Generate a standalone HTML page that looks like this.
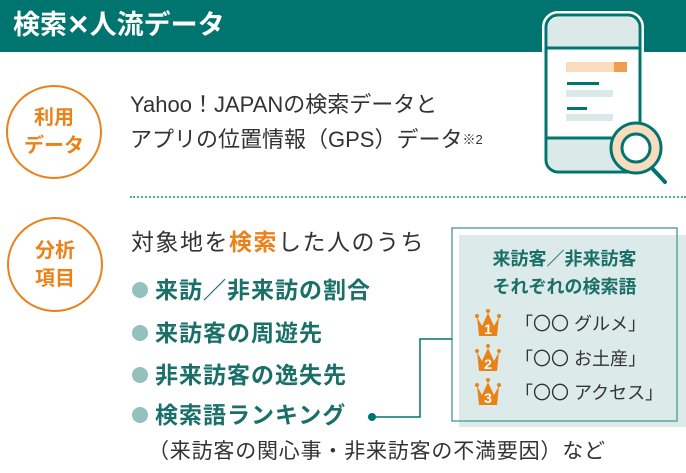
<!DOCTYPE html><html><head><meta charset="utf-8"><style>
body{margin:0;width:686px;height:473px;position:relative;background:#fff;font-family:"Liberation Sans","Noto Sans CJK JP",sans-serif;overflow:hidden}
.a{position:absolute;white-space:nowrap}
.c{position:absolute;border:2px solid #ea8219;border-radius:50%;box-sizing:border-box;color:#ea8219;font-weight:bold;font-size:20px;line-height:28px;text-align:center;display:flex;flex-direction:column;justify-content:center}
.b{position:absolute;left:132px;width:16px;height:16px;border-radius:50%;background:#94c1be}
.bt{position:absolute;left:155px;color:#1a6f69;font-weight:bold;font-size:23px;letter-spacing:1px;line-height:26px;white-space:nowrap}
.r{position:absolute;left:515px;font-size:18px;color:#333;white-space:nowrap;line-height:22px}
</style></head><body>
<div class="a" style="left:0;top:0;width:686px;height:52px;background:#00756f"></div>
<div class="a" style="left:13px;top:8px;color:#fff;font-weight:bold;font-size:27px;line-height:34px">検索✕人流データ</div>
<div class="c" style="left:6px;top:85px;width:96px;height:94px">利用<br>データ</div>
<div class="a" style="left:130px;top:90px;font-size:22px;color:#333;line-height:30px">Yahoo！JAPANの検索データと</div>
<div class="a" style="left:130px;top:125px;font-size:22px;color:#333;line-height:30px">アプリの位置情報（GPS）データ<span style="font-size:13px;vertical-align:top">※2</span></div>
<div class="a" style="left:130px;top:196px;width:556px;border-top:2px dotted #5aa6a0"></div>
<svg class="a" style="left:0;top:0" width="686" height="200">
<rect x="546" y="15" width="94" height="157" rx="12" fill="#fff" stroke="#fff" stroke-width="8"/>
<rect x="546" y="15" width="94" height="157" rx="12" fill="#fff" stroke="#00756f" stroke-width="3"/>
<path d="M548 48 V27 a10 10 0 0 1 10 -10 H628 a10 10 0 0 1 10 10 V48Z" fill="#dbeae8"/>
<path d="M548 138 V160 a10 10 0 0 0 10 10 H628 a10 10 0 0 0 10 -10 V138Z" fill="#dbeae8"/>
<line x1="547" y1="48" x2="639" y2="48" stroke="#00756f" stroke-width="3"/>
<line x1="547" y1="138" x2="639" y2="138" stroke="#00756f" stroke-width="3"/>
<rect x="566" y="62" width="61" height="10" fill="#f9dcc0"/><rect x="614" y="62" width="13" height="10" fill="#ef9e50"/>
<rect x="567" y="82" width="32" height="3" fill="#00756f"/><rect x="566" y="90" width="47" height="7" fill="#dbeae8"/>
<rect x="567" y="107" width="20" height="3" fill="#00756f"/><rect x="566" y="114" width="47" height="7" fill="#dbeae8"/>
<line x1="650" y1="166" x2="665" y2="182" stroke="#00756f" stroke-width="4" stroke-linecap="round"/>
<circle cx="636" cy="148" r="25" fill="#f9dcc0" stroke="#00756f" stroke-width="3"/>
<circle cx="636" cy="148" r="14" fill="#fff" stroke="#00756f" stroke-width="3"/>
</svg>
<div class="c" style="left:7px;top:217px;width:96px;height:95px">分析<br>項目</div>
<div class="a" style="left:131px;top:228px;font-size:23px;letter-spacing:1.5px;color:#333;line-height:28px">対象地を<b style="color:#ea8219">検索</b>した人のうち</div>
<div class="b" style="top:282px"></div><div class="bt" style="top:277px">来訪／非来訪の割合</div>
<div class="b" style="top:325px"></div><div class="bt" style="top:320px">来訪客の周遊先</div>
<div class="b" style="top:367px"></div><div class="bt" style="top:362px">非来訪客の逸失先</div>
<div class="b" style="top:407px"></div><div class="bt" style="top:402px">検索語ランキング</div>
<div class="a" style="left:148px;top:438px;font-size:21px;letter-spacing:0.8px;color:#333;line-height:28px">（来訪客の関心事・非来訪客の不満要因）など</div>
<svg class="a" style="left:0;top:0" width="686" height="473">
<rect x="459" y="235" width="227" height="192" fill="#dcebe9"/>
<rect x="452" y="228" width="225" height="193" fill="none" stroke="#5aa6a0" stroke-width="1.5"/>
<circle cx="372" cy="417" r="4" fill="#00756f"/>
<polyline points="372,417 420,417 420,339 452,339" fill="none" stroke="#00756f" stroke-width="1.5"/>
<g fill="#ea8219">
<path d="M477 317 L482 326 L488 313 L494 326 L499 317 L497 336 L479 336Z"/>
<circle cx="477" cy="316" r="2"/><circle cx="488" cy="311" r="2"/><circle cx="499" cy="316" r="2"/>
<path d="M477 352 L482 361 L488 348 L494 361 L499 352 L497 371 L479 371Z"/>
<circle cx="477" cy="351" r="2"/><circle cx="488" cy="346" r="2"/><circle cx="499" cy="351" r="2"/>
<path d="M477 386 L482 395 L488 382 L494 395 L499 386 L497 405 L479 405Z"/>
<circle cx="477" cy="385" r="2"/><circle cx="488" cy="380" r="2"/><circle cx="499" cy="385" r="2"/>
</g>
<g fill="#fff" font-size="14" font-weight="bold" font-family="Liberation Sans" text-anchor="middle">
<text x="488" y="334">1</text><text x="488" y="369">2</text><text x="488" y="403">3</text></g>
</svg>
<div class="a" style="left:452px;top:245px;width:225px;text-align:center;color:#1a6f69;font-weight:bold;font-size:18px;line-height:28px">来訪客／非来訪客<br>それぞれの検索語</div>
<div class="r" style="top:313px">「〇〇 グルメ」</div>
<div class="r" style="top:348px">「〇〇 お土産」</div>
<div class="r" style="top:382px">「〇〇 アクセス」</div>
</body></html>
